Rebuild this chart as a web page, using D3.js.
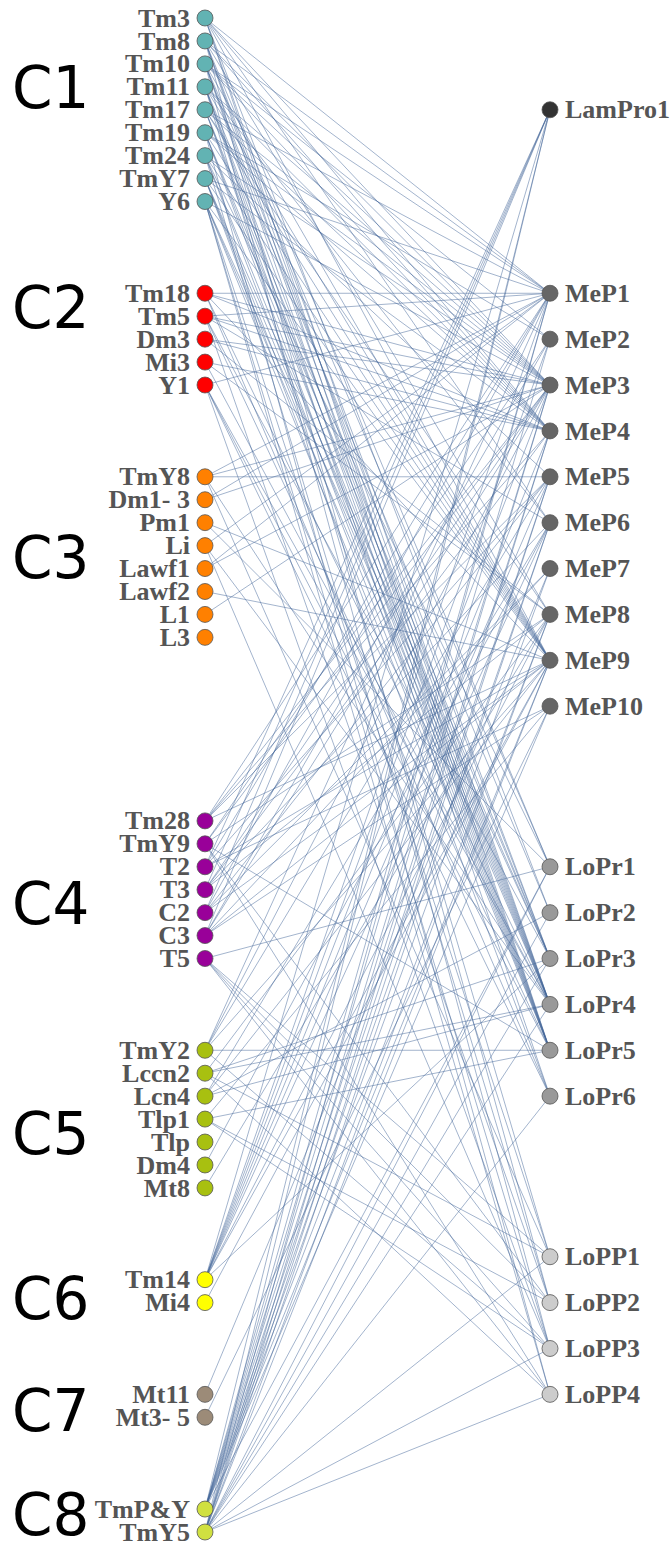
<!DOCTYPE html>
<html>
<head>
<meta charset="utf-8">
<script src="https://cdn.jsdelivr.net/npm/d3@7"></script>
<style>
  body { margin: 0; background: #fff; }
  .link { fill: none; stroke: #44659a; stroke-opacity: 0.55; stroke-width: 0.9; }
  .label { font-family: "Liberation Serif", "Times New Roman", serif; font-weight: bold; font-size: 26px; fill: #555; }
  .cluster { font-family: "DejaVu Sans", sans-serif; font-size: 58px; fill: #000; }
</style>
</head>
<body>
<div id="chart"></div>
<script>
// left column: cell types, their slot on the grid and their cluster
var leftNames = ["Tm3","Tm8","Tm10","Tm11","Tm17","Tm19","Tm24","TmY7","Y6",
  "Tm18","Tm5","Dm3","Mi3","Y1",
  "TmY8","Dm1- 3","Pm1","Li","Lawf1","Lawf2","L1","L3",
  "Tm28","TmY9","T2","T3","C2","C3","T5",
  "TmY2","Lccn2","Lcn4","Tlp1","Tlp","Dm4","Mt8",
  "Tm14","Mi4",
  "Mt11","Mt3- 5",
  "TmP&Y","TmY5"];
var leftSlots = [0,1,2,3,4,5,6,7,8,
  12,13,14,15,16,
  20,21,22,23,24,25,26,27,
  35,36,37,38,39,40,41,
  45,46,47,48,49,50,51,
  55,56,
  60,61,
  65,66];
var leftCluster = [1,1,1,1,1,1,1,1,1, 2,2,2,2,2, 3,3,3,3,3,3,3,3,
  4,4,4,4,4,4,4, 5,5,5,5,5,5,5, 6,6, 7,7, 8,8];

// cluster labels
var clusterNames = ["C1","C2","C3","C4","C5","C6","C7","C8"];
var clusterSlots = [3, 12.6, 23.5, 38.6, 48.6, 55.8, 60.7, 65.2];
var clusterColors = ["#62b3b3","#ff0000","#ff8000","#990099","#a8c010","#ffff00","#9c8b78","#d0e040"];

// right column: projection neurons
var rightNames = ["LamPro1","MeP1","MeP2","MeP3","MeP4","MeP5","MeP6","MeP7","MeP8","MeP9","MeP10",
  "LoPr1","LoPr2","LoPr3","LoPr4","LoPr5","LoPr6","LoPP1","LoPP2","LoPP3","LoPP4"];
var rightSlots = [4,12,14,16,18,20,22,24,26,28,30,37,39,41,43,45,47,54,56,58,60];
var rightGroup = ["LamPro","MeP","MeP","MeP","MeP","MeP","MeP","MeP","MeP","MeP","MeP",
  "LoPr","LoPr","LoPr","LoPr","LoPr","LoPr","LoPP","LoPP","LoPP","LoPP"];
var groupColors = { LamPro: "#333333", MeP: "#666666", LoPr: "#999999", LoPP: "#cccccc" };

// connections
var links = [
  ["Tm3", ["MeP1","MeP3","MeP4","MeP6","MeP9","LoPr2","LoPr4","LoPr5"]],
  ["Tm8", ["MeP1","MeP3","MeP4","MeP8","LoPr1","LoPr3","LoPr4","LoPr5","LoPP2"]],
  ["Tm10", ["MeP1","MeP2","MeP3","MeP4","MeP9","LoPr1","LoPr3","LoPr4","LoPr5","LoPP3"]],
  ["Tm11", ["MeP3","MeP4","MeP6","MeP9","LoPr2","LoPr4","LoPr5","LoPr6","LoPP1"]],
  ["Tm17", ["MeP1","MeP3","MeP4","MeP8","MeP9","LoPr3","LoPr4","LoPr5"]],
  ["Tm19", ["MeP2","MeP3","MeP4","MeP9","LoPr3","LoPr4","LoPr5","LoPP4"]],
  ["Tm24", ["MeP3","MeP5","MeP9","LoPr1","LoPr4","LoPr5","LoPP2"]],
  ["TmY7", ["MeP1","MeP4","MeP9","LoPr3","LoPr4","LoPr5","LoPr6"]],
  ["Y6", ["MeP3","MeP9","LoPr3","LoPr4","LoPr5","LoPP1","LoPP3","LoPP4"]],
  ["Tm18", ["MeP1","MeP3","MeP4","MeP9","LoPr4","LoPr6"]],
  ["Tm5", ["MeP1","MeP3","MeP4","MeP6","LoPr3","LoPr5","LoPP2"]],
  ["Dm3", ["MeP3","MeP4","MeP8"]],
  ["Mi3", ["MeP4","MeP8","LoPr4"]],
  ["Y1", ["MeP1","LoPr4","LoPr5","LoPr6","LoPP3"]],
  ["TmY8", ["MeP1","MeP3","MeP5","LoPr4","LoPP1"]],
  ["Dm1- 3", ["MeP1","MeP3"]],
  ["Pm1", ["MeP9","LoPr1"]],
  ["Li", ["MeP1","LoPr4","LoPP3"]],
  ["Lawf1", ["MeP1","MeP3"]],
  ["Lawf2", ["MeP9"]],
  ["L1", ["MeP3"]],
  ["Tm28", ["MeP1","MeP3","MeP4","MeP5","MeP9"]],
  ["TmY9", ["MeP2","MeP3","MeP8","LoPr5","LoPP2","LoPP4"]],
  ["T2", ["LamPro1","MeP1","MeP5","MeP9","MeP10"]],
  ["T3", ["LamPro1","MeP3","MeP4","MeP6","MeP8"]],
  ["C2", ["LamPro1","MeP1","MeP5","MeP7","MeP9"]],
  ["C3", ["LamPro1","MeP2","MeP3","MeP7","MeP9","MeP10"]],
  ["T5", ["LoPr1","LoPP1","LoPP2","LoPP3","LoPP4"]],
  ["TmY2", ["MeP1","MeP3","MeP5","MeP9","LoPr5","LoPP3"]],
  ["Lccn2", ["MeP8","LoPr3","LoPr4","LoPP1","LoPP4"]],
  ["Lcn4", ["MeP6","MeP9","LoPr2","LoPr4"]],
  ["Tlp1", ["MeP10","LoPr5","LoPP2","LoPP3"]],
  ["Dm4", ["MeP6"]],
  ["Mt8", ["MeP8"]],
  ["Tm14", ["LamPro1","MeP1","MeP2","MeP3","MeP4","MeP5","MeP6","MeP8","MeP9","LoPr3"]],
  ["Mi4", ["MeP9"]],
  ["Mt11", ["MeP7"]],
  ["Mt3- 5", ["MeP10"]],
  ["TmP&Y", ["LamPro1","MeP1","MeP2","MeP3","MeP4","MeP5","MeP6","MeP7","MeP8","MeP9","MeP10","LoPr1"]],
  ["TmY5", ["LamPro1","MeP1","MeP3","MeP4","MeP5","MeP6","MeP8","MeP9","LoPr1","LoPr2","LoPr3","LoPr4","LoPr6","LoPP1","LoPP3","LoPP4"]]
];

var width = 671, height = 1542;
var xLeft = 205, xRight = 550, r = 8;

var y = d3.scaleLinear().domain([0, 66]).range([18, 1532]);

var svg = d3.select("#chart").append("svg")
  .attr("width", width)
  .attr("height", height);

var leftPos = {};
leftNames.forEach(function (n, i) { leftPos[n] = y(leftSlots[i]); });
var rightPos = {};
rightNames.forEach(function (n, i) { rightPos[n] = y(rightSlots[i]); });

var edges = [];
links.forEach(function (d) {
  d[1].forEach(function (t) { edges.push({ source: d[0], target: t }); });
});

// links
svg.selectAll(".link")
  .data(edges)
  .enter()
  .append("line")
  .attr("class", "link")
  .attr("x1", xLeft)
  .attr("y1", function (d) { return leftPos[d.source]; })
  .attr("x2", xRight)
  .attr("y2", function (d) { return rightPos[d.target]; });

// cluster labels
svg.selectAll(".cluster")
  .data(clusterNames)
  .enter()
  .append("text")
  .attr("class", "cluster")
  .attr("x", 12)
  .attr("y", function (d, i) { return y(clusterSlots[i]); })
  .attr("dy", "0.36em")
  .text(function (d) { return d; });

// left nodes
var left = svg.selectAll(".left")
  .data(leftNames)
  .enter()
  .append("g")
  .attr("class", "left")
  .attr("transform", function (d, i) { return "translate(" + xLeft + "," + y(leftSlots[i]) + ")"; });

left.append("circle")
  .attr("r", r)
  .attr("fill", function (d, i) { return clusterColors[leftCluster[i] - 1]; })
  .attr("stroke", "#555")
  .attr("stroke-width", 0.8);

left.append("text")
  .attr("class", "label")
  .attr("x", -15)
  .attr("dy", "0.33em")
  .style("text-anchor", "end")
  .text(function (d) { return d; });

// right nodes
var right = svg.selectAll(".right")
  .data(rightNames)
  .enter()
  .append("g")
  .attr("class", "right")
  .attr("transform", function (d, i) { return "translate(" + xRight + "," + y(rightSlots[i]) + ")"; });

right.append("circle")
  .attr("r", r)
  .attr("fill", function (d, i) { return groupColors[rightGroup[i]]; })
  .attr("stroke", "#555")
  .attr("stroke-width", 0.8);

right.append("text")
  .attr("class", "label")
  .attr("x", 15)
  .attr("dy", "0.33em")
  .style("text-anchor", "start")
  .text(function (d) { return d; });
</script>
</body>
</html>
